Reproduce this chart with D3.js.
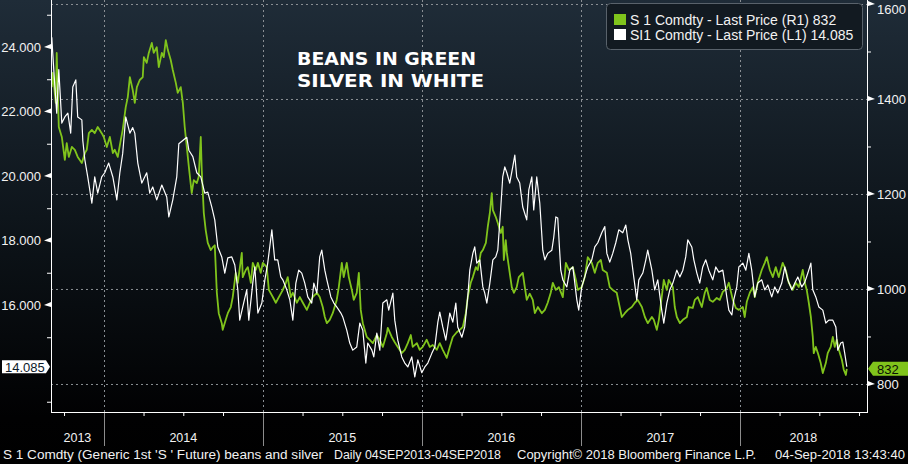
<!DOCTYPE html>
<html><head><meta charset="utf-8">
<script src="https://cdn.jsdelivr.net/npm/d3@7"></script>
<style>html,body{margin:0;padding:0;background:#000;overflow:hidden}svg{display:block}</style>
</head><body>
<svg id="chart" width="908" height="464"></svg>
<script>
// ---- DATA (decimal year, value) ----
const silver = [[2013.673,24.3],[2013.679,23.8],[2013.692,22.8],[2013.704,21.95],[2013.717,23.3],[2013.736,21.64],[2013.755,21.83],[2013.774,21.95],[2013.792,21.33],[2013.805,22.76],[2013.824,22.98],[2013.836,21.83],[2013.862,21.74],[2013.868,21.1],[2013.881,20.5],[2013.899,19.97],[2013.925,19.16],[2013.943,19.97],[2013.962,19.47],[2013.987,19.97],[2014.006,20.1],[2014.031,20.4],[2014.057,19.97],[2014.082,19.26],[2014.101,20.1],[2014.119,20.7],[2014.138,21.83],[2014.164,21.33],[2014.182,21.5],[2014.195,21.33],[2014.214,20.4],[2014.239,19.78],[2014.270,20.1],[2014.289,19.47],[2014.308,19.66],[2014.333,19.26],[2014.365,19.72],[2014.396,19.35],[2014.409,18.73],[2014.434,19.26],[2014.459,19.97],[2014.472,21.0],[2014.497,21.1],[2014.522,21.2],[2014.535,20.8],[2014.560,20.6],[2014.585,20.1],[2014.610,19.97],[2014.635,19.47],[2014.654,19.5],[2014.679,19.04],[2014.698,18.64],[2014.717,17.8],[2014.742,17.49],[2014.761,16.99],[2014.780,17.46],[2014.805,17.49],[2014.824,17.24],[2014.843,16.47],[2014.855,15.53],[2014.874,15.94],[2014.899,16.47],[2014.912,15.53],[2014.937,16.68],[2014.950,17.18],[2014.969,15.75],[2014.994,16.06],[2015.013,16.78],[2015.031,17.3],[2015.057,18.33],[2015.075,17.4],[2015.094,17.4],[2015.113,16.87],[2015.126,16.78],[2015.151,16.47],[2015.170,16.16],[2015.189,15.53],[2015.208,16.68],[2015.226,17.08],[2015.245,16.99],[2015.264,16.68],[2015.283,16.25],[2015.308,16.06],[2015.321,16.68],[2015.340,16.37],[2015.358,17.49],[2015.371,17.7],[2015.390,17.08],[2015.403,16.78],[2015.428,16.25],[2015.447,16.06],[2015.465,15.94],[2015.491,15.75],[2015.503,15.63],[2015.528,15.22],[2015.547,14.82],[2015.566,14.6],[2015.591,14.7],[2015.610,15.44],[2015.629,15.22],[2015.648,14.2],[2015.660,14.82],[2015.686,14.6],[2015.698,14.39],[2015.717,15.13],[2015.736,14.6],[2015.755,16.06],[2015.780,16.16],[2015.792,15.84],[2015.818,16.37],[2015.830,15.53],[2015.849,14.91],[2015.874,14.39],[2015.893,14.2],[2015.912,14.08],[2015.937,14.39],[2015.956,13.77],[2015.975,14.3],[2016.000,13.9],[2016.019,14.08],[2016.038,14.2],[2016.063,14.5],[2016.082,14.7],[2016.101,15.47],[2016.113,15.78],[2016.132,15.32],[2016.151,14.91],[2016.176,15.75],[2016.195,15.47],[2016.214,16.06],[2016.226,15.32],[2016.252,15.0],[2016.270,15.32],[2016.289,16.25],[2016.302,17.08],[2016.321,17.6],[2016.333,17.8],[2016.346,17.3],[2016.365,17.4],[2016.384,16.56],[2016.396,16.37],[2016.409,16.06],[2016.428,16.68],[2016.447,17.4],[2016.465,17.49],[2016.478,17.7],[2016.497,19.04],[2016.509,19.97],[2016.522,20.28],[2016.535,20.1],[2016.553,19.78],[2016.572,20.28],[2016.585,20.65],[2016.597,19.97],[2016.616,19.78],[2016.635,19.04],[2016.660,18.64],[2016.673,19.57],[2016.692,19.97],[2016.704,18.95],[2016.723,19.97],[2016.742,19.16],[2016.761,17.7],[2016.774,17.4],[2016.792,17.6],[2016.818,17.7],[2016.830,18.1],[2016.843,18.73],[2016.855,18.7],[2016.874,17.08],[2016.887,16.78],[2016.912,16.56],[2016.931,17.08],[2016.950,17.18],[2016.975,16.16],[2016.987,15.84],[2017.006,16.56],[2017.025,16.87],[2017.044,17.18],[2017.069,17.4],[2017.088,17.8],[2017.107,17.93],[2017.132,18.24],[2017.151,18.43],[2017.164,17.6],[2017.182,17.33],[2017.201,17.6],[2017.220,17.93],[2017.239,18.33],[2017.264,18.24],[2017.283,18.48],[2017.296,18.02],[2017.314,17.6],[2017.333,16.87],[2017.352,16.16],[2017.365,16.78],[2017.390,16.99],[2017.409,17.4],[2017.421,17.7],[2017.447,17.08],[2017.465,16.47],[2017.484,16.78],[2017.509,15.84],[2017.522,15.44],[2017.541,16.06],[2017.560,16.47],[2017.579,16.68],[2017.604,17.08],[2017.623,16.87],[2017.642,17.08],[2017.660,17.49],[2017.673,18.02],[2017.698,17.8],[2017.711,17.4],[2017.730,16.99],[2017.748,16.68],[2017.767,17.18],[2017.786,17.4],[2017.805,17.08],[2017.830,16.78],[2017.849,17.18],[2017.868,17.02],[2017.893,17.08],[2017.906,16.68],[2017.918,16.25],[2017.931,15.84],[2017.950,15.69],[2017.962,16.16],[2017.981,16.56],[2017.994,17.18],[2018.019,17.3],[2018.038,17.08],[2018.057,17.6],[2018.075,17.08],[2018.094,16.25],[2018.113,16.68],[2018.138,16.78],[2018.157,16.47],[2018.176,16.62],[2018.201,16.25],[2018.220,16.56],[2018.239,16.37],[2018.264,16.68],[2018.283,17.18],[2018.302,16.78],[2018.327,16.47],[2018.346,16.68],[2018.365,16.87],[2018.390,16.56],[2018.409,16.71],[2018.428,16.99],[2018.447,17.3],[2018.459,16.47],[2018.478,16.25],[2018.497,15.94],[2018.522,15.84],[2018.541,15.44],[2018.560,15.53],[2018.585,15.53],[2018.604,15.32],[2018.616,14.6],[2018.635,14.82],[2018.648,14.85],[2018.660,14.5],[2018.673,14.085]];

const beans = [[2013.673,1425],[2013.679,1455],[2013.698,1392],[2013.704,1497],[2013.717,1341],[2013.736,1320],[2013.755,1272],[2013.767,1307],[2013.780,1278],[2013.799,1299],[2013.818,1293],[2013.836,1278],[2013.862,1265],[2013.881,1286],[2013.893,1293],[2013.906,1328],[2013.925,1335],[2013.943,1328],[2013.962,1341],[2013.987,1328],[2014.000,1320],[2014.019,1299],[2014.038,1320],[2014.057,1286],[2014.069,1293],[2014.088,1278],[2014.107,1314],[2014.119,1335],[2014.138,1383],[2014.151,1404],[2014.164,1446],[2014.182,1419],[2014.195,1392],[2014.208,1425],[2014.226,1440],[2014.245,1446],[2014.252,1488],[2014.270,1476],[2014.283,1497],[2014.302,1518],[2014.314,1497],[2014.333,1509],[2014.346,1467],[2014.365,1497],[2014.377,1488],[2014.390,1524],[2014.403,1503],[2014.421,1482],[2014.434,1461],[2014.453,1434],[2014.465,1413],[2014.484,1425],[2014.497,1392],[2014.509,1341],[2014.522,1299],[2014.535,1257],[2014.553,1202],[2014.566,1229],[2014.585,1223],[2014.597,1236],[2014.610,1320],[2014.616,1251],[2014.629,1160],[2014.641,1124],[2014.654,1097],[2014.673,1082],[2014.686,1088],[2014.698,1092],[2014.711,992],[2014.723,949],[2014.742,928],[2014.748,914],[2014.767,935],[2014.780,949],[2014.799,962],[2014.811,983],[2014.830,1034],[2014.843,1013],[2014.868,1076],[2014.874,1025],[2014.893,1040],[2014.906,1046],[2014.925,1013],[2014.937,1055],[2014.956,1040],[2014.969,1055],[2014.987,1034],[2015.000,1055],[2015.025,1046],[2015.038,998],[2015.063,983],[2015.082,971],[2015.101,983],[2015.126,998],[2015.145,1013],[2015.157,1025],[2015.176,983],[2015.189,992],[2015.214,971],[2015.233,983],[2015.252,971],[2015.277,956],[2015.296,971],[2015.314,983],[2015.340,992],[2015.358,983],[2015.377,962],[2015.390,941],[2015.403,928],[2015.421,935],[2015.440,949],[2015.465,977],[2015.478,1004],[2015.497,1055],[2015.509,1025],[2015.528,1055],[2015.541,1025],[2015.560,998],[2015.572,977],[2015.591,992],[2015.604,1034],[2015.616,956],[2015.629,928],[2015.654,899],[2015.673,893],[2015.692,886],[2015.717,903],[2015.736,893],[2015.755,878],[2015.780,907],[2015.786,918],[2015.811,899],[2015.830,888],[2015.849,878],[2015.874,865],[2015.893,872],[2015.912,886],[2015.931,903],[2015.943,878],[2015.969,886],[2015.987,872],[2016.006,878],[2016.031,893],[2016.050,878],[2016.069,882],[2016.094,872],[2016.113,886],[2016.132,872],[2016.157,855],[2016.176,878],[2016.195,899],[2016.220,909],[2016.239,914],[2016.258,920],[2016.277,949],[2016.289,983],[2016.308,1013],[2016.321,1025],[2016.340,1046],[2016.352,1040],[2016.371,1076],[2016.384,1082],[2016.403,1097],[2016.415,1131],[2016.428,1160],[2016.440,1202],[2016.447,1166],[2016.465,1152],[2016.478,1139],[2016.497,1118],[2016.509,1131],[2016.516,1061],[2016.528,1103],[2016.535,1076],[2016.553,1034],[2016.566,1004],[2016.579,992],[2016.597,1004],[2016.610,1025],[2016.635,1034],[2016.648,1004],[2016.660,977],[2016.679,990],[2016.698,977],[2016.711,949],[2016.730,962],[2016.755,949],[2016.774,956],[2016.792,971],[2016.811,992],[2016.824,1013],[2016.843,998],[2016.862,1004],[2016.887,983],[2016.906,1055],[2016.925,1040],[2016.950,1046],[2016.969,1019],[2016.981,998],[2017.006,1004],[2017.025,1025],[2017.044,1067],[2017.069,1055],[2017.088,1034],[2017.107,1055],[2017.126,1061],[2017.138,1040],[2017.164,1034],[2017.182,1004],[2017.201,998],[2017.226,992],[2017.239,971],[2017.258,941],[2017.277,949],[2017.296,956],[2017.321,962],[2017.340,971],[2017.358,977],[2017.384,962],[2017.403,941],[2017.421,928],[2017.447,941],[2017.459,935],[2017.478,914],[2017.491,935],[2017.509,983],[2017.522,1019],[2017.541,998],[2017.553,1019],[2017.579,1004],[2017.591,962],[2017.604,941],[2017.623,928],[2017.642,935],[2017.667,941],[2017.679,962],[2017.704,960],[2017.717,977],[2017.736,983],[2017.761,962],[2017.780,992],[2017.792,1002],[2017.811,977],[2017.830,973],[2017.855,981],[2017.874,977],[2017.893,994],[2017.918,1002],[2017.931,1013],[2017.956,977],[2017.975,960],[2017.994,956],[2018.019,962],[2018.031,941],[2018.044,973],[2018.063,992],[2018.082,1004],[2018.094,983],[2018.113,1013],[2018.138,1040],[2018.157,1055],[2018.170,1067],[2018.189,1040],[2018.208,1025],[2018.226,1046],[2018.245,1025],[2018.270,1055],[2018.289,1040],[2018.308,1013],[2018.333,998],[2018.352,1013],[2018.371,1004],[2018.396,1040],[2018.409,1013],[2018.421,998],[2018.434,971],[2018.447,941],[2018.459,899],[2018.465,865],[2018.478,878],[2018.491,865],[2018.509,844],[2018.522,823],[2018.541,844],[2018.553,865],[2018.572,878],[2018.585,899],[2018.597,878],[2018.610,893],[2018.623,872],[2018.642,851],[2018.654,830],[2018.667,819],[2018.673,832]];

const yearLabels = ["2013","2014","2015","2016","2017","2018"];
const yearStarts = [2014,2015,2016,2017,2018];
const quarterTicks = [2013.75,2014.25,2014.5,2014.75,2015.25,2015.5,2015.75,2016.25,2016.5,2016.75,2017.25,2017.5,2017.75,2018.25,2018.5,2018.75];
const leftMajor = [16,18,20,22,24];
const leftMinor = [13,15,17,19,21,23,25];
const rightMajor = [800,1000,1200,1400,1600];
const rightMinor = [900,1100,1300,1500];
const lastSilver = 14.085, lastBeans = 832;
const legendLabels = ["S 1 Comdty - Last Price (R1) 832","SI1 Comdty - Last Price (L1) 14.085"];
const noteLines = ["BEANS IN GREEN","SILVER IN WHITE"];
const footer = ["S 1 Comdty (Generic 1st 'S ' Future) beans and silver","Daily 04SEP2013-04SEP2018","Copyright\u00A9 2018 Bloomberg Finance L.P.","04-Sep-2018 13:43:40"];

// ---- LAYOUT ----
const L = 51, R = 867, T = 0, B = 412;
const GREEN = "#80c41c", WHITE = "#ffffff", GRID = "#8a8f94", TXT = "#f2f2f2";
const svg = d3.select("#chart");
const defs = svg.append("defs");
const grad = defs.append("linearGradient").attr("id","bg").attr("x1",0).attr("y1",0).attr("x2",0).attr("y2",1);
grad.append("stop").attr("offset","0%").attr("stop-color","#1f2c38");
grad.append("stop").attr("offset","55%").attr("stop-color","#0b1116");
grad.append("stop").attr("offset","90%").attr("stop-color","#010102");
grad.append("stop").attr("offset","100%").attr("stop-color","#000");
defs.append("clipPath").attr("id","clip").append("rect").attr("x",L).attr("y",T).attr("width",R-L).attr("height",B-T);
svg.append("rect").attr("width",908).attr("height",464).attr("fill","url(#bg)");

const x = d3.scaleLinear().domain([2013.668, 2018.80]).range([L, R]);
const yL = d3.scaleLinear().domain([12.682, 25.457]).range([B, T]);
const yR = d3.scaleLinear().domain([741, 1608.4]).range([B, T]);

// grid
const g = svg.append("g");
g.selectAll(".hg").data(rightMajor).join("line")
  .attr("x1",L).attr("x2",R).attr("y1",d=>yR(d)+0.5).attr("y2",d=>yR(d)+0.5)
  .attr("stroke",GRID).attr("stroke-width",1).attr("stroke-dasharray","2,3");
g.selectAll(".vg").data(yearStarts).join("line")
  .attr("x1",d=>Math.round(x(d))+0.5).attr("x2",d=>Math.round(x(d))+0.5).attr("y1",T).attr("y2",B)
  .attr("stroke",GRID).attr("stroke-width",1).attr("stroke-dasharray","2,3");
g.selectAll(".ys").data(yearStarts).join("line")
  .attr("x1",d=>Math.round(x(d))+0.5).attr("x2",d=>Math.round(x(d))+0.5).attr("y1",B).attr("y2",446)
  .attr("stroke","#8c8c8c").attr("stroke-width",1);

// series
const lineR = d3.line().x(d=>x(d[0])).y(d=>yR(d[1]));
const lineL = d3.line().x(d=>x(d[0])).y(d=>yL(d[1]));
const plot = svg.append("g").attr("clip-path","url(#clip)");
plot.append("path").datum(beans).attr("d",lineR).attr("fill","none").attr("stroke",GREEN).attr("stroke-width",1.8).attr("stroke-linejoin","round");
plot.append("path").datum(silver).attr("d",lineL).attr("fill","none").attr("stroke",WHITE).attr("stroke-width",1.2).attr("stroke-linejoin","round");

// axes
const axL = svg.append("g").attr("transform",`translate(${L},0)`)
  .call(d3.axisLeft(yL).tickValues(leftMajor).tickSize(0).tickPadding(10).tickFormat(d3.format(".3f")));
const axLm = svg.append("g").attr("transform",`translate(${L},0)`)
  .call(d3.axisLeft(yL).tickValues(leftMinor).tickSize(4).tickFormat(""));
const axR = svg.append("g").attr("transform",`translate(${R},0)`)
  .call(d3.axisRight(yR).tickValues(rightMajor).tickSize(0).tickPadding(10).tickFormat(d3.format("d")));
const axRm = svg.append("g").attr("transform",`translate(${R},0)`)
  .call(d3.axisRight(yR).tickValues(rightMinor).tickSize(4).tickFormat(""));
const axB = svg.append("g").attr("transform",`translate(0,${B})`)
  .call(d3.axisBottom(x).tickValues(quarterTicks).tickSize(4).tickFormat(""));
[axL,axLm,axR,axRm,axB].forEach(a=>{
  a.select(".domain").remove();
  a.selectAll("line").attr("stroke","#fff");
  a.selectAll("text").attr("fill",TXT).attr("font-family","Arial, 'Liberation Sans', sans-serif").attr("font-size",13);
});
// keep the top right label inside the picture
axR.selectAll(".tick").filter(d=>yR(d)<9).select("text").attr("y",5);
// axis frame lines
svg.append("line").attr("x1",L+0.5).attr("x2",L+0.5).attr("y1",T).attr("y2",B+0.5).attr("stroke","#fff");
svg.append("line").attr("x1",R+0.5).attr("x2",R+0.5).attr("y1",T).attr("y2",B+0.5).attr("stroke","#fff");
svg.append("line").attr("x1",L).attr("x2",R+1).attr("y1",B+0.5).attr("y2",B+0.5).attr("stroke","#fff");
// tick flags (triangles)
svg.selectAll(".tl").data(leftMajor).join("path")
  .attr("d",d=>{const y=yL(d);return `M${L},${y-3}L${L-7},${y}L${L},${y+2}Z`;}).attr("fill","#fff");
svg.selectAll(".tr").data(rightMajor).join("path")
  .attr("d",d=>{const y=yR(d);return `M${R+1},${y-3}L${R+8},${y}L${R+1},${y+2}Z`;}).attr("fill","#fff");

// year labels
const segs = yearLabels.map((lab,i)=>{
  const a = i===0 ? L : x(yearStarts[i-1]);
  const b = i===yearLabels.length-1 ? R : x(yearStarts[i]);
  return {lab, cx:(a+b)/2};
});
svg.selectAll(".yl").data(segs).join("text")
  .attr("x",d=>d.cx).attr("y",442).attr("text-anchor","middle")
  .attr("fill",TXT).attr("font-family","Arial, 'Liberation Sans', sans-serif").attr("font-size",12.5)
  .text(d=>d.lab);

// last value labels
const ys = yL(lastSilver);
svg.append("path").attr("d",`M2,${ys-6.5}H46L50,${ys}L46,${ys+6.5}H2Z`).attr("fill","#fff");
svg.append("text").attr("x",5).attr("y",ys+5).attr("fill","#0c1a2a")
  .attr("font-family","Arial, 'Liberation Sans', sans-serif").attr("font-size",13).text(d3.format(".3f")(lastSilver));
const yb = yR(lastBeans);
svg.append("path").attr("d",`M868,${yb}L873,${yb-7}H908V${yb+7}H873Z`).attr("fill",GREEN);
svg.append("text").attr("x",877).attr("y",yb+5).attr("fill","#0a0f05")
  .attr("font-family","Arial, 'Liberation Sans', sans-serif").attr("font-size",13).text(lastBeans);

// legend
const lg = svg.append("g");
lg.append("rect").attr("x",606.5).attr("y",3.5).attr("width",256).attr("height",46).attr("rx",4)
  .attr("fill","#121a21").attr("stroke","#59626b").attr("stroke-width",1);
[GREEN, WHITE].forEach((c,i)=>{
  lg.append("rect").attr("x",614).attr("y",14+i*15).attr("width",12).attr("height",11).attr("fill",c);
  lg.append("text").attr("x",630).attr("y",25+i*15).attr("fill",TXT)
    .attr("font-family","Arial, 'Liberation Sans', sans-serif").attr("font-size",14).text(legendLabels[i]);
});

// annotation
const noteW = [179, 187];
noteLines.forEach((t,i)=>{
  svg.append("text").attr("x",297).attr("y",65+i*22).attr("fill","#fff")
    .attr("font-family","'DejaVu Sans', Verdana, sans-serif").attr("font-weight","bold").attr("font-size",17.5)
    .attr("textLength",noteW[i]).attr("lengthAdjust","spacingAndGlyphs").text(t);
});

// footer
const fpos = [[3,320],[334,167],[517,239],[775,130]];
footer.forEach((t,i)=>{
  svg.append("text").attr("x",fpos[i][0]).attr("y",459).attr("fill",TXT)
    .attr("font-family","Arial, 'Liberation Sans', sans-serif").attr("font-size",12.5)
    .attr("textLength",fpos[i][1]).attr("lengthAdjust","spacingAndGlyphs").text(t);
});
</script>
</body></html>
